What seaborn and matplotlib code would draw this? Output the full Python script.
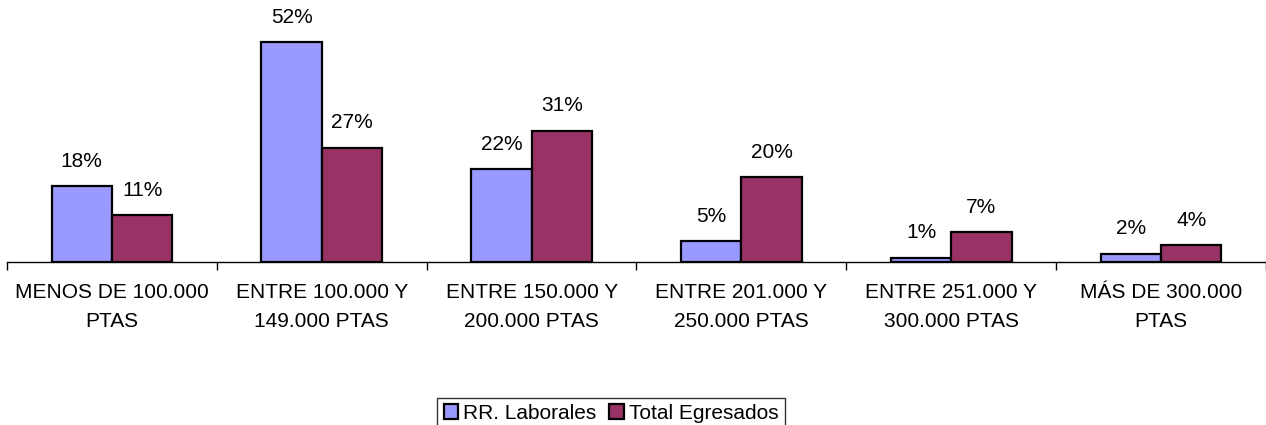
import matplotlib
matplotlib.use("Agg")
import matplotlib.pyplot as plt
import seaborn as sns
import pandas as pd
from matplotlib.patches import Patch

# salary bands (two-line tick labels) and the share of each group
categories = ["MENOS DE 100.000\nPTAS", "ENTRE 100.000 Y\n149.000 PTAS", "ENTRE 150.000 Y\n200.000 PTAS",
              "ENTRE 201.000 Y\n250.000 PTAS", "ENTRE 251.000 Y\n300.000 PTAS", "MÁS DE 300.000\nPTAS"]
rr_laborales = [18, 52, 22, 5, 1, 2]
total_egresados = [11, 27, 31, 20, 7, 4]
series = ["RR. Laborales", "Total Egresados"]
colors = ["#9999FF", "#993366"]

df = pd.DataFrame({
    "cat": categories * 2,
    "valor": rr_laborales + total_egresados,
    "serie": [series[0]] * len(categories) + [series[1]] * len(categories),
})

sns.set_style("white")
plt.rcParams["font.family"] = ["Liberation Sans", "DejaVu Sans"]
plt.rcParams["text.color"] = "black"
plt.rcParams["xtick.color"] = "black"
plt.rcParams["xtick.labelcolor"] = "black"

fig = plt.figure(figsize=(12.66, 4.25), dpi=100)
ax = fig.add_axes([7 / 1266, 163 / 425, 1259 / 1266, (262 - 8) / 425])

sns.barplot(data=df, x="cat", y="valor", hue="serie", palette=colors, width=0.575,
            edgecolor="black", linewidth=1.6, saturation=1, ax=ax, legend=False)

for cont in ax.containers:
    ax.bar_label(cont, labels=[f"{int(round(v))}%" for v in cont.datavalues],
                 padding=11, fontsize=15, color="black")

ax.set_ylim(0, 60)
ax.set_xlim(-0.5, len(categories) - 0.5)
ax.set_xlabel("")
ax.set_ylabel("")
ax.set_yticks([])
for s in ["top", "right", "left"]:
    ax.spines[s].set_visible(False)
ax.spines["bottom"].set_color("black")
ax.spines["bottom"].set_linewidth(1)

ax.set_xticks(range(len(categories)))
ax.set_xticklabels(categories, fontsize=15, linespacing=1.65)
ax.tick_params(axis="x", which="major", length=0, pad=15, bottom=True)
ax.set_xticks([i - 0.5 for i in range(len(categories) + 1)], minor=True)
ax.tick_params(axis="x", which="minor", length=6, width=1, color="black",
               direction="out", bottom=True)

handles = [Patch(facecolor=c, edgecolor="black", linewidth=1.6) for c in colors]
leg = fig.legend(handles, series, loc="lower center", bbox_to_anchor=(611 / 1266, -0.01),
                 ncol=2, fontsize=15, frameon=True, fancybox=False, handlelength=0.7,
                 handleheight=0.7, handletextpad=0.25, columnspacing=0.6, borderpad=0.3,
                 borderaxespad=0.0)
leg.get_frame().set_edgecolor("black")
leg.get_frame().set_linewidth(1)

fig.savefig("out.png", dpi=100)
